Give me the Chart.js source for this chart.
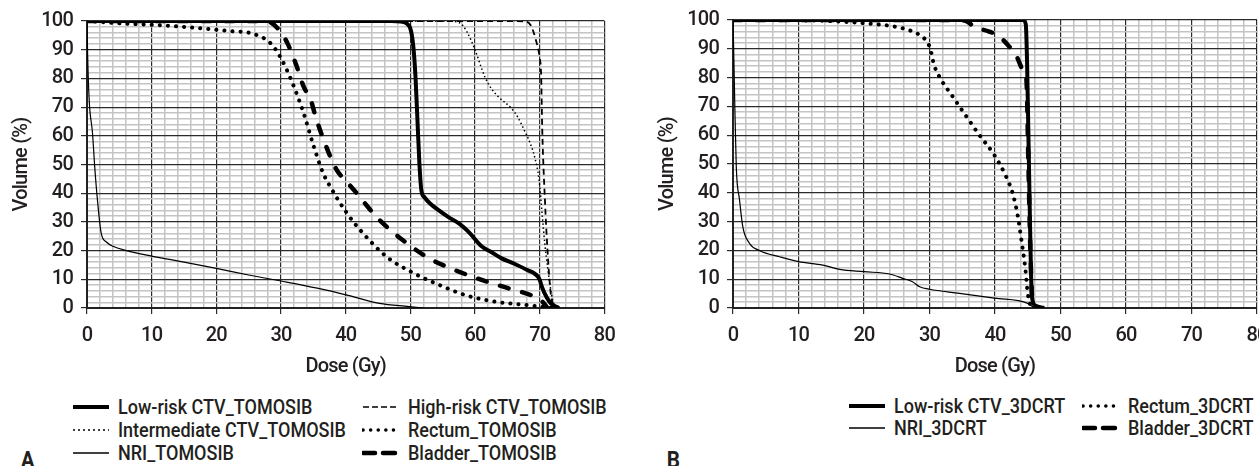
<!DOCTYPE html>
<html>
<head>
<meta charset="utf-8">
<script src="https://cdn.jsdelivr.net/npm/chart.js@4.4.1/dist/chart.umd.min.js"></script>
<style>
  html, body { margin: 0; padding: 0; background: #fff; overflow: hidden; }
  #page { position: relative; width: 1259px; height: 466px; overflow: hidden;
          font-family: Roboto, 'Liberation Sans', sans-serif; font-weight: 500; color: #231f20; }
  .box { position: absolute; top: 0; }
  .item { position: absolute; height: 24px; line-height: 24px; font-size: 20px; white-space: nowrap; }
  .item svg { position: absolute; left: 0; top: 6px; }
  .item span { position: absolute; top: 0; transform: scaleX(0.9); transform-origin: 0 50%; }
  .tag { position: absolute; font-size: 23px; font-weight: bold; line-height: 1; transform: scaleX(0.9); }
</style>
</head>
<body>
<div id="page">
  <div class="box" style="left:0;width:625px;height:380px"><canvas id="chartA" width="625" height="380"></canvas></div>
  <div class="box" style="left:640px;width:640px;height:380px"><canvas id="chartB" width="640" height="380"></canvas></div>
  <div id="legendA"></div>
  <div id="legendB"></div>
  <div class="tag" style="left:20px;top:449px">A</div>
  <div class="tag" style="left:666px;top:449px">B</div>
</div>
<script>
  // Chart Data (dose in Gy, volume in %)

  var doseTicks = [0, 10, 20, 30, 40, 50, 60, 70, 80];
  var volumeTicks = [0, 10, 20, 30, 40, 50, 60, 70, 80, 90, 100];

  // A: TOMOSIB
  var lowRiskA_dose = [0, 47, 48.5, 49.5, 50.1, 50.5, 50.8, 51.1, 51.4, 51.7, 52.2, 53, 54.4, 56, 57.5, 59, 61, 62.5, 64.1, 66, 68.1, 69.3, 69.9, 70.4, 71, 71.7, 72.7, 73];
  var lowRiskA_vol  = [100, 100, 99.8, 99, 96.5, 90, 80, 65, 50, 41, 38.5, 36.5, 34, 31.5, 29.5, 26.5, 21.5, 19.5, 17.3, 15.5, 13.2, 11.8, 10.3, 7, 4, 1.6, 0.3, 0];

  var highRiskA_dose = [0, 66, 67.8, 68.6, 69.4, 70, 70.2, 70.4, 70.8, 71.2, 71.7, 72.3];
  var highRiskA_vol  = [100, 100, 99.8, 98.5, 93.4, 87, 82, 61, 37.6, 20, 5, 0];

  var interA_dose = [0, 55, 57.5, 58.8, 60, 61.5, 62.5, 63.6, 65.6, 66.6, 67.6, 68.5, 69.2, 69.9, 70.4, 70.8, 71.2, 72, 72.5];
  var interA_vol  = [100, 100, 99.5, 96, 89.9, 80.6, 76.5, 73.6, 69.6, 66.5, 62, 57.5, 52.7, 44.6, 31.8, 22, 14.4, 2.8, 0];

  var rectumA_dose = [0, 5, 12.2, 18.8, 22, 25.4, 28.4, 30, 32, 33.5, 35.1, 36.5, 37.6, 40.2, 42.7, 46.3, 50.1, 53.9, 58.5, 63.1, 68.1, 72];
  var rectumA_vol  = [100, 99.2, 98.4, 97.2, 96.5, 95.7, 92.2, 87, 77.1, 67.8, 56, 47, 42.3, 33, 26, 17.9, 12.6, 8.6, 4.5, 2.2, 1, 0];

  var bladderA_dose = [0, 27, 28.4, 30, 31, 32.3, 33.5, 34.6, 35.3, 36.6, 38.6, 40, 41.7, 43.5, 45.2, 48.8, 52.9, 56.9, 61, 65.1, 69.2, 70.5, 71.2];
  var bladderA_vol  = [100, 100, 99.5, 96, 92.2, 85, 77.1, 72.5, 67, 58.5, 48.1, 44.4, 40, 35, 30.7, 23.7, 17.3, 13.2, 9.8, 6.9, 3.9, 2, 0];

  var nriA_dose = [0, 0.1, 0.35, 0.85, 1.2, 1.6, 2.2, 3, 4, 6.1, 10, 15, 20, 25, 30, 35.6, 40.2, 45.2, 49.8, 52];
  var nriA_vol  = [100, 88, 72, 61, 49, 38, 26, 23, 21.5, 20, 18.1, 16, 13.8, 11.5, 9.4, 6.9, 4.5, 1.6, 0.5, 0];

  // B: 3DCRT
  var lowRiskB_dose = [0, 44.3, 44.7, 44.9, 45.1, 45.3, 45.5, 45.7, 46.2, 47.5];
  var lowRiskB_vol  = [100, 100, 98.5, 85, 60, 35, 12, 3, 0.8, 0];

  var nriB_dose = [0, 0.1, 0.26, 0.5, 1, 1.5, 2.5, 4.1, 7.1, 10, 13.7, 16.3, 20, 23.9, 25.9, 27.4, 28.5, 30, 34.6, 39.9, 45, 46];
  var nriB_vol  = [100, 90, 72, 49, 37.5, 28.2, 22.5, 19.9, 17.8, 16.1, 14.9, 13.4, 12.6, 11.8, 10.3, 9.1, 7.4, 6.5, 5.1, 3.4, 1.6, 0];

  var rectumB_dose = [0, 12.4, 18.8, 21.3, 23.9, 26.4, 28.5, 29.5, 30.1, 30.7, 31.8, 33.3, 35.3, 37.6, 39.9, 41.7, 42.7, 43.5, 44.1, 44.6, 45, 45.5];
  var rectumB_vol  = [100, 99.8, 99.1, 98.6, 98, 96.8, 94.8, 92.8, 90.2, 84.4, 79.2, 74.2, 67.6, 60.1, 53.1, 45.6, 39.8, 31.7, 22.5, 14.3, 5.1, 0];

  var bladderB_dose = [0, 34, 35.6, 36.8, 39.1, 40.4, 42.2, 43.2, 44.5, 44.8, 45.1, 45.4, 45.7];
  var bladderB_vol  = [100, 100, 99.6, 97.7, 96, 94.8, 90.7, 87.8, 81.5, 79.2, 50, 20, 0];

  // Line styles

  var styles = {
    lowRisk:  { width: 4,   dash: [],         cap: 'butt',  svgDash: '',        svgWidth: 4 },
    highRisk: { width: 1.8, dash: [6, 4],     cap: 'butt',  svgDash: '6 3',     svgWidth: 1.6 },
    inter:    { width: 1.5, dash: [1.5, 2.5], cap: 'butt',  svgDash: '2 3',     svgWidth: 1.6 },
    rectum:   { width: 4,   dash: [0.1, 8],   cap: 'round', svgDash: '0.1 7.5', svgWidth: 3.5 },
    bladder:  { width: 4.5, dash: [9, 14],    cap: 'round', svgDash: '12 8',    svgWidth: 4.5 },
    nri:      { width: 1.2, dash: [],         cap: 'butt',  svgDash: '',        svgWidth: 1.3 }
  };

  var seriesA = [
    { label: 'Low-risk CTV_TOMOSIB',     style: 'lowRisk',  dose: lowRiskA_dose,  vol: lowRiskA_vol },
    { label: 'High-risk CTV_TOMOSIB',    style: 'highRisk', dose: highRiskA_dose, vol: highRiskA_vol },
    { label: 'Intermediate CTV_TOMOSIB', style: 'inter',    dose: interA_dose,    vol: interA_vol },
    { label: 'Rectum_TOMOSIB',           style: 'rectum',   dose: rectumA_dose,   vol: rectumA_vol },
    { label: 'NRI_TOMOSIB',              style: 'nri',      dose: nriA_dose,      vol: nriA_vol },
    { label: 'Bladder_TOMOSIB',          style: 'bladder',  dose: bladderA_dose,  vol: bladderA_vol }
  ];

  var seriesB = [
    { label: 'Low-risk CTV_3DCRT', style: 'lowRisk', dose: lowRiskB_dose, vol: lowRiskB_vol },
    { label: 'Rectum_3DCRT',       style: 'rectum',  dose: rectumB_dose,  vol: rectumB_vol },
    { label: 'NRI_3DCRT',          style: 'nri',     dose: nriB_dose,     vol: nriB_vol },
    { label: 'Bladder_3DCRT',      style: 'bladder', dose: bladderB_dose, vol: bladderB_vol }
  ];

  var FONT = "Roboto, 'Liberation Sans', sans-serif";
  var INK = '#231f20';

  function isMajor(ctx) {
    return ctx.tick && ctx.tick.value % 10 === 0;
  }

  var gridOpts = {
    color: function(ctx){ return isMajor(ctx) ? '#2b2b2b' : '#c4c4c4'; },
    lineWidth: function(ctx){ return isMajor(ctx) ? 1.2 : 1.5; },
    tickColor: function(ctx){ return isMajor(ctx) ? '#2b2b2b' : 'rgba(0,0,0,0)'; },
    tickLength: 6
  };

  // tighter letters so the canvas text looks condensed like the original
  var narrowText = {
    id: 'narrowText',
    beforeUpdate: function(chart){ chart.ctx.letterSpacing = '-0.8px'; },
    beforeDraw: function(chart){ chart.ctx.letterSpacing = '-0.8px'; }
  };

  function toDatasets(series) {
    return series.map(function(s){
      var st = styles[s.style];
      return {
        label: s.label,
        data: s.dose.map(function(d, i){ return { x: d, y: s.vol[i] }; }),
        borderColor: '#000',
        borderWidth: st.width,
        borderDash: st.dash,
        borderCapStyle: st.cap,
        pointRadius: 0,
        fill: false,
        cubicInterpolationMode: 'monotone'
      };
    });
  }

  // Generate Charts

  function makeChart(id, series, yWidth, yTitlePad, topPad, rightPad) {
    var font = { family: FONT, size: 20, weight: '500' };
    return new Chart(document.getElementById(id).getContext('2d'), {
      type: 'line',
      data: { datasets: toDatasets(series) },
      plugins: [narrowText],
      options: {
        responsive: false,
        animation: false,
        layout: { padding: { left: 0, top: topPad, right: rightPad, bottom: 0 } },
        plugins: { legend: { display: false }, tooltip: { enabled: false } },
        scales: {
          x: {
            type: 'linear', min: 0, max: 80,
            afterFit: function(scale){ scale.height = 72; },
            ticks: {
              stepSize: 2, autoSkip: false, maxRotation: 0, padding: 10,
              color: INK, font: font,
              callback: function(v){ return doseTicks.indexOf(v) >= 0 ? String(v) : ''; }
            },
            grid: gridOpts,
            border: { color: '#222', width: 2 },
            title: { display: true, text: 'Dose (Gy)', color: INK, font: font, padding: { top: 0, bottom: 1 } }
          },
          y: {
            type: 'linear', min: 0, max: 100,
            afterFit: function(scale){ scale.width = yWidth; },
            ticks: {
              stepSize: 2, autoSkip: false, padding: 8,
              color: INK, font: font,
              callback: function(v){ return volumeTicks.indexOf(v) >= 0 ? String(v) : ''; }
            },
            grid: gridOpts,
            border: { color: '#222', width: 2 },
            title: { display: true, text: 'Volume (%)', color: INK, font: font, padding: { top: yTitlePad, bottom: 0 } }
          }
        }
      }
    });
  }

  makeChart('chartA', seriesA, 87, 10, 21, 14);
  makeChart('chartB', seriesB, 93, 16, 20, 23);

  // Legends (two columns)

  function addLegend(holderId, series, cols, rows) {
    var holder = document.getElementById(holderId);
    series.forEach(function(s, i){
      var st = styles[s.style];
      var col = cols[i % 2], top = rows[Math.floor(i / 2)];
      var el = document.createElement('div');
      el.className = 'item';
      el.style.left = col + 'px';
      el.style.top = (top - 12) + 'px';
      el.innerHTML = '<svg width="38" height="12"><line x1="1" y1="6" x2="37" y2="6" stroke="#000" stroke-width="' + st.svgWidth +
        '" stroke-linecap="' + st.cap + '"' + (st.svgDash ? ' stroke-dasharray="' + st.svgDash + '"' : '') + '/></svg>' +
        '<span style="left:46px">' + s.label + '</span>';
      holder.appendChild(el);
    });
  }

  addLegend('legendA', seriesA, [72, 362], [407, 430, 453]);
  addLegend('legendB', seriesB, [848, 1082], [406, 428]);
</script>
</body>
</html>
